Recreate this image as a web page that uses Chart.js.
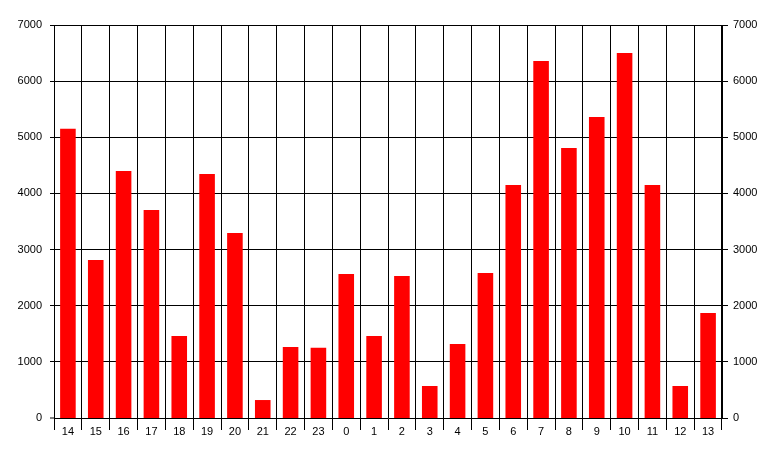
<!DOCTYPE html>
<html>
<head>
<meta charset="utf-8">
<script src="https://cdn.jsdelivr.net/npm/chart.js@4"></script>
<style>
  body { margin: 0; background: #fff; }
  canvas { display: block; }
</style>
</head>
<body>
<canvas id="hourChart" width="777" height="457"></canvas>
<script>
// hour labels and counts
const hours = ['14', '15', '16', '17', '18', '19', '20', '21', '22', '23', '0', '1',
  '2', '3', '4', '5', '6', '7', '8', '9', '10', '11', '12', '13'];
const counts = [5150, 2815, 4400, 3705, 1460, 4345, 3295, 320, 1265, 1250, 2565, 1460,
  2530, 570, 1318, 2583, 4150, 6360, 4810, 5360, 6500, 4150, 570, 1870];
const yTicks = [0, 1000, 2000, 3000, 4000, 5000, 6000, 7000];

Chart.defaults.font.family = '"Liberation Sans", Arial, sans-serif';
Chart.defaults.font.size = 11;
Chart.defaults.color = '#000';

const ctx = document.getElementById('hourChart').getContext('2d');
new Chart(ctx, {
  type: 'bar',
  data: {
    labels: hours,
    datasets: [{
      data: counts,
      backgroundColor: '#ff0000',
      borderWidth: 0,
      barPercentage: 0.56,
      categoryPercentage: 1
    }]
  },
  options: {
    responsive: false,
    animation: false,
    layout: { padding: { top: 25, left: 0, right: 0, bottom: 0 } },
    plugins: { legend: { display: false }, tooltip: { enabled: false } },
    scales: {
      x: {
        grid: { color: '#000', lineWidth: 1, offset: true, tickLength: 12 },
        border: { color: '#000' },
        ticks: { padding: -5, maxRotation: 0, autoSkip: false },
        afterFit: s => { s.height = 39; }
      },
      y: {
        position: 'left',
        min: 0, max: 7000,
        afterBuildTicks: s => { s.ticks = yTicks.map(v => ({ value: v })); },
        // zero line comes from the x border, so bars reach it
        grid: {
          color: '#000',
          lineWidth: c => (c.tick && c.tick.value === 0 ? 0 : 1),
          tickWidth: 1,
          tickLength: 4
        },
        border: { color: '#000' },
        ticks: { padding: 8, callback: v => String(v) },
        afterFit: s => { s.width = 54; }
      },
      y2: {
        position: 'right',
        min: 0, max: 7000,
        afterBuildTicks: s => { s.ticks = yTicks.map(v => ({ value: v })); },
        grid: { drawOnChartArea: false, color: '#000', tickLength: 6 },
        border: { color: '#000' },
        ticks: { padding: 5, callback: v => String(v) },
        afterFit: s => { s.width = 55; }
      }
    }
  }
});
</script>
</body>
</html>
